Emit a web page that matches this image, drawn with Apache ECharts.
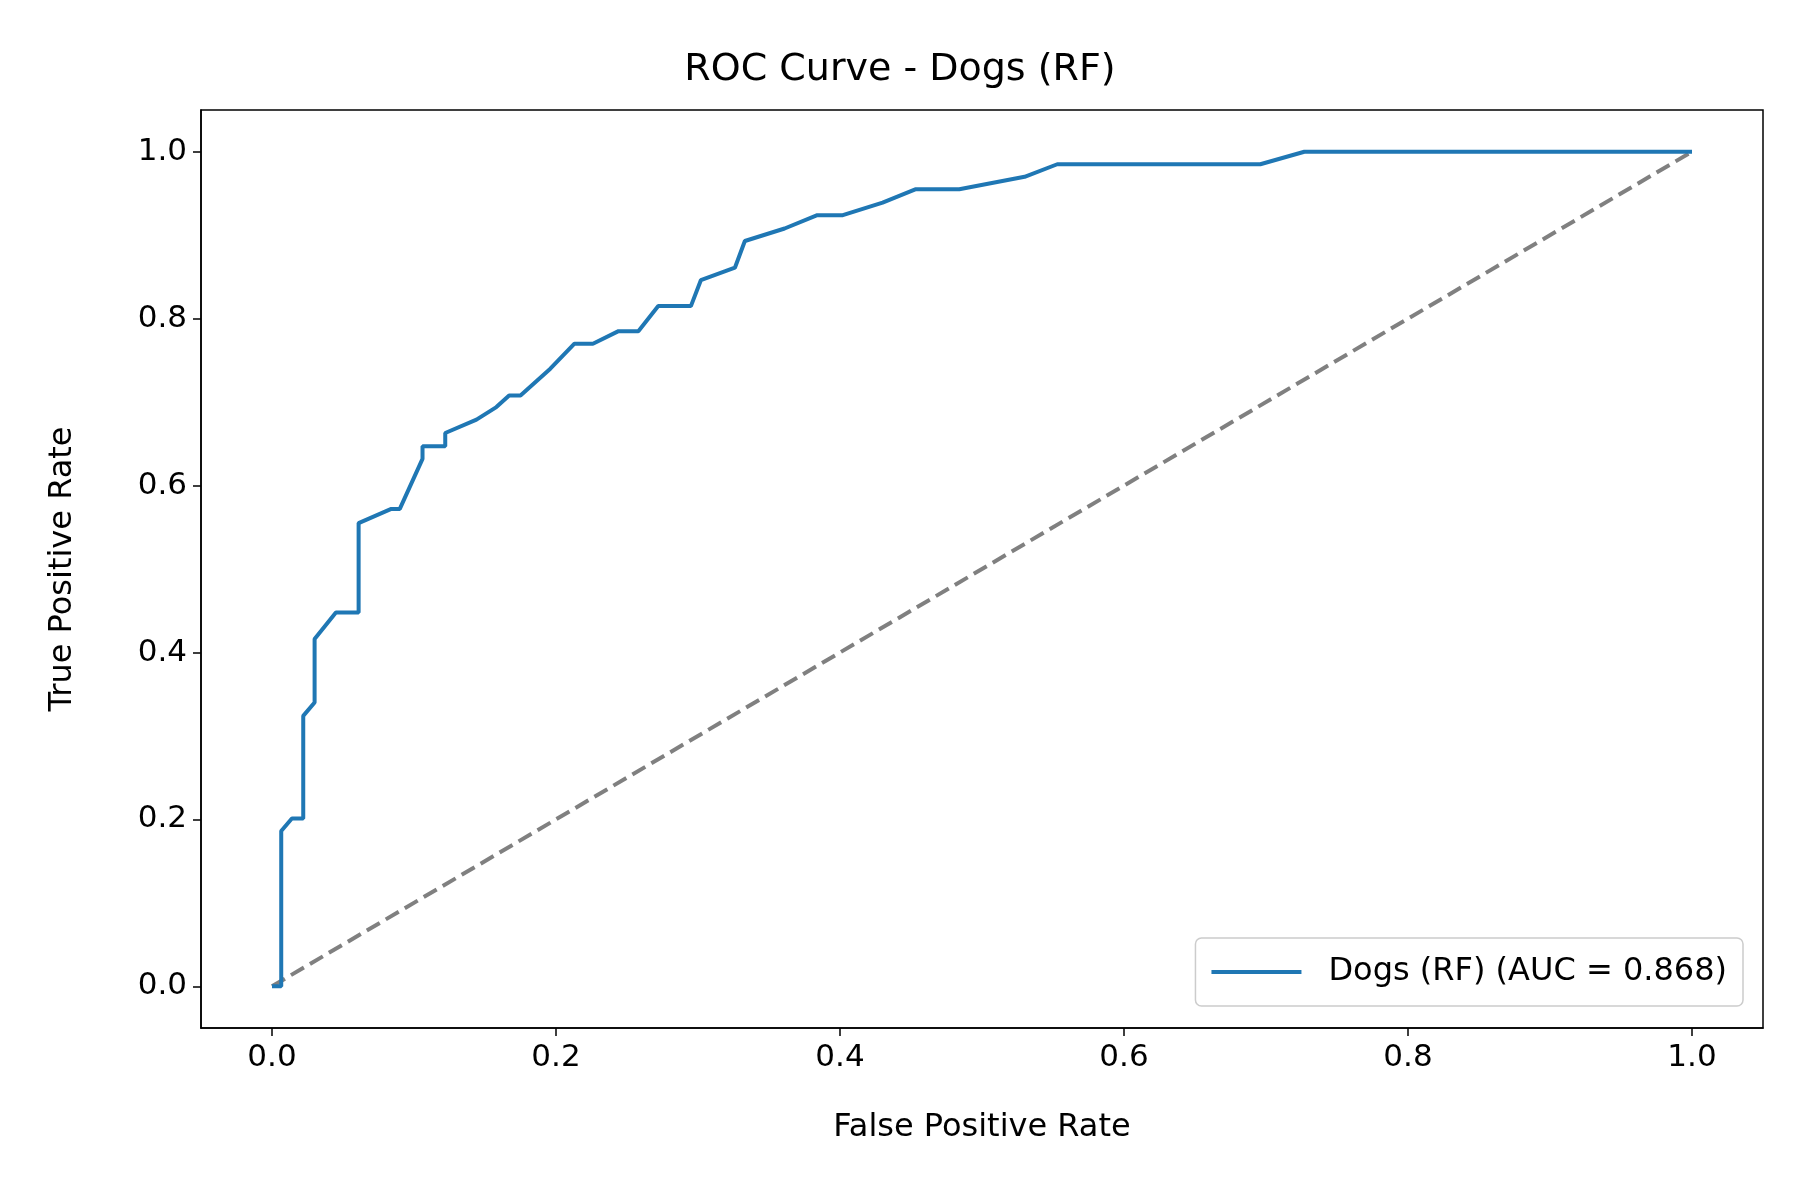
<!DOCTYPE html>
<html>
<head>
<meta charset="utf-8">
<script src="https://cdn.jsdelivr.net/npm/echarts@6/dist/echarts.min.js"></script>
<style>html,body{margin:0;background:#fff}#chart{width:1800px;height:1200px}</style>
</head>
<body>
<div id="chart"></div>
<script>
// ROC points
var fpr = [0, 0.0065, 0.0065, 0.014, 0.022, 0.022, 0.030, 0.030, 0.045, 0.061, 0.061, 0.084, 0.090, 0.106, 0.106,
  0.122, 0.122, 0.144, 0.158, 0.167, 0.175, 0.196, 0.213, 0.226, 0.244, 0.258, 0.272, 0.295, 0.302, 0.326, 0.333,
  0.361, 0.384, 0.402, 0.430, 0.453, 0.484, 0.530, 0.553, 0.696, 0.727, 1.0];
var tpr = [0, 0, 0.186, 0.201, 0.201, 0.324, 0.340, 0.416, 0.448, 0.448, 0.555, 0.572, 0.572, 0.632, 0.647,
  0.647, 0.663, 0.679, 0.694, 0.708, 0.708, 0.740, 0.770, 0.770, 0.785, 0.785, 0.815, 0.815, 0.846, 0.861, 0.893,
  0.908, 0.924, 0.924, 0.939, 0.955, 0.955, 0.970, 0.985, 0.985, 1.0, 1.0];
var chanceX = [0, 1];
var chanceY = [0, 1];
var tickValues = [0, 0.2, 0.4, 0.6, 0.8, 1.0];
var seriesName = 'Dogs (RF) (AUC = 0.868)';

var font = 'DejaVu Sans';
var chart = echarts.init(document.getElementById('chart'));
function makeAxis(name, gap) {
    return {
        type: 'value', name: name, nameGap: gap, nameLocation: 'middle',
        min: -0.05, max: 1.05,
        axisLine: {show: true, onZero: false, lineStyle: {color: '#000', width: 1.5}},
        axisTick: {show: true, length: 8, lineStyle: {color: '#000', width: 1.5}, customValues: tickValues},
        splitLine: {show: false},
        nameTextStyle: {fontFamily: font, fontSize: 32, color: '#000'},
        axisLabel: {fontFamily: font, fontSize: 31, color: '#000', margin: 14, customValues: tickValues,
            formatter: function (v) { return v.toFixed(1); }}
    };
}
chart.setOption({
    backgroundColor: '#fff',
    animation: false,
    title: {text: 'ROC Curve - Dogs (RF)', left: 'center', top: 46,
        textStyle: {fontFamily: font, fontSize: 38, fontWeight: 'normal', color: '#000'}},
    grid: {left: 201, right: 37, top: 110, bottom: 172, show: true, borderColor: '#000', borderWidth: 1.5},
    legend: {
        data: [seriesName], right: 57, bottom: 194, orient: 'vertical',
        padding: [18, 16, 18, 16], itemWidth: 90, itemHeight: 4,
        borderColor: '#ccc', borderWidth: 1.5, borderRadius: 6, backgroundColor: 'rgba(255,255,255,0.8)',
        textStyle: {fontFamily: font, fontSize: 32, color: '#000', padding: [0, 0, 0, 22]},
        icon: 'rect'
    },
    xAxis: makeAxis('False Positive Rate', 84),
    yAxis: makeAxis('True Positive Rate', 122),
    series: [
        {name: seriesName, type: 'line', symbol: 'none', z: 3,
            data: fpr.map(function (x, i) { return [x, tpr[i]]; }),
            lineStyle: {color: '#1f77b4', width: 4}, itemStyle: {color: '#1f77b4'}},
        {name: 'chance', type: 'line', symbol: 'none', z: 2,
            data: chanceX.map(function (x, i) { return [x, chanceY[i]]; }),
            lineStyle: {color: '#808080', width: 4, type: [15, 7]}}
    ]
});
</script>
</body>
</html>
